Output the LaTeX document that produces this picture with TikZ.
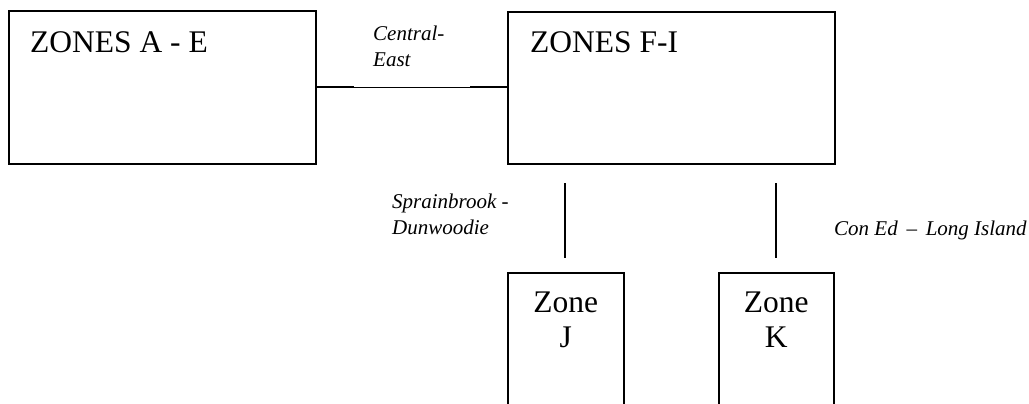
\documentclass[tikz,border=0pt]{standalone}
\usepackage{fontspec}
\setmainfont{Liberation Serif}
\usetikzlibrary{positioning}

\begin{document}
\begin{tikzpicture}[x=1pt,y=-1pt,
  zonebox/.style={draw,line width=1.6pt,inner sep=0pt,anchor=north west},
  zonetext/.style={font=\fontsize{31.5}{35}\selectfont,inner sep=0pt,align=center},
  tielabel/.style={font=\fontsize{21}{26}\selectfont\itshape,inner sep=0pt,align=left},
  tie/.style={line width=1.6pt},
  thintie/.style={line width=0.8pt}]
\clip (0,0) rectangle (1029,404);
% zone boxes
\node[zonebox,minimum width=307pt,minimum height=153pt] (ae) at (8,10) {};
\node[zonebox,minimum width=327pt,minimum height=152pt] (fi) at (507,11) {};
\node[zonebox,minimum width=116pt,minimum height=200pt] (zj) at (507,272) {};
\node[zonebox,minimum width=115pt,minimum height=200pt] (zk) at (718,272) {};
\node[zonetext,anchor=north west] (aetext) at (30,31) {ZONES A - E};
\node[zonetext,anchor=north west] (fitext) at (530,31) {ZONES F-I};
\node[zonetext,below=20pt of zj.north] (zjtext) {Zone\\J};
\node[zonetext,below=20pt of zk.north] (zktext) {Zone\\K};
% interfaces
\coordinate (ce1) at (354,87);
\coordinate (ce2) at (470,87);
\draw[tie] (ae.east |- ce1) -- (ce1);
\draw[thintie] (ce1) -- (ce2);
\draw[tie] (ce2) -- (fi.west |- ce2);
\coordinate (sdtop) at (565,183);
\coordinate (sdbot) at (565,258);
\draw[tie] (sdtop) -- (sdbot);
\coordinate (citop) at (776,183);
\coordinate (cibot) at (776,258);
\draw[tie] (citop) -- (cibot);
\node[tielabel,anchor=north west] (celabel) at (373,26) {Central-\\East};
\node[tielabel,anchor=north west] (sdlabel) at (392,194) {Sprainbrook -\\Dunwoodie};
\node[tielabel,anchor=base west] (cilabel) at (834,235) {Con Ed \,–\, Long Island};
\end{tikzpicture}
\end{document}
